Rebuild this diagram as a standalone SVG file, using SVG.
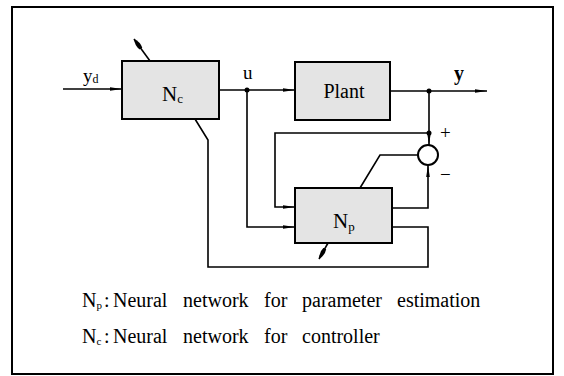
<svg xmlns="http://www.w3.org/2000/svg" width="564" height="376" viewBox="0 0 564 376">
<defs>
<style>
.ln{fill:none;stroke:#000;stroke-width:1.6}
.box{fill:#e4e4e4;stroke:#000;stroke-width:2}
text{font-family:"Liberation Serif","Times New Roman",serif;fill:#000}
</style>
<marker id="ah" viewBox="0 0 12 6" refX="12" refY="3" markerWidth="12" markerHeight="6" markerUnits="userSpaceOnUse" orient="auto">
<path d="M0,1.2 L12,3 L0,4.8 Z" fill="#000"/>
</marker>
<marker id="adj" viewBox="0 0 12 6" refX="12" refY="3" markerWidth="12" markerHeight="6" markerUnits="userSpaceOnUse" orient="auto">
<path d="M0,1.5 Q6,-0.5 12,3 Q6,6.5 0,4.5 Z" fill="#000"/>
</marker>
</defs>
<rect width="564" height="376" fill="#fff"/>
<rect x="12" y="7" width="541" height="367" fill="none" stroke="#000" stroke-width="2"/>

<g id="connectors">
<line class="ln" x1="63" y1="89" x2="122" y2="89" marker-end="url(#ah)"/>
<line class="ln" x1="219" y1="90" x2="295" y2="90" marker-end="url(#ah)"/>
<line class="ln" x1="390" y1="91" x2="487" y2="91" marker-end="url(#ah)"/>
<line class="ln" x1="429" y1="91" x2="429" y2="145" marker-end="url(#ah)"/>
<polyline class="ln" points="429,133 275,133 275,207 295,207" marker-end="url(#ah)"/>
<polyline class="ln" points="247,90 247,227 295,227" marker-end="url(#ah)"/>
<polyline class="ln" points="392,208 428,208 428,165" marker-end="url(#ah)"/>
<polyline class="ln" points="418,155 380,155 360,188"/>
<polyline class="ln" points="195,119 208,140 208,267 428,267 428,227 392,227"/>
<line class="ln" x1="150" y1="61" x2="134" y2="39" marker-end="url(#adj)"/>
<line class="ln" x1="328" y1="243" x2="319" y2="259" marker-end="url(#adj)"/>
<circle cx="247" cy="90" r="2.5" fill="#000"/>
<circle cx="429" cy="91" r="2.5" fill="#000"/>
<circle cx="429" cy="133" r="2.5" fill="#000"/>
</g>

<g id="Nc">
<rect class="box" x="122" y="61" width="97" height="58"/>
<text x="162" y="101" font-size="21">N<tspan font-size="13" dy="2">c</tspan></text>
</g>
<g id="Plant">
<rect class="box" x="295" y="62" width="95" height="58"/>
<text x="344" y="98" font-size="20" text-anchor="middle">Plant</text>
</g>
<g id="Np">
<rect class="box" x="295" y="188" width="97" height="55"/>
<text x="333" y="228" font-size="21">N<tspan font-size="13" dy="3">p</tspan></text>
</g>
<g id="sum">
<circle cx="428" cy="155" r="10" fill="#fff" stroke="#000" stroke-width="2"/>
<text x="440" y="139" font-size="19">+</text>
<text x="440" y="181" font-size="19">−</text>
</g>

<g id="labels">
<text x="83" y="82" font-size="19">y<tspan font-size="12" dy="1">d</tspan></text>
<text x="243" y="79" font-size="19">u</text>
<text x="454" y="80" font-size="20" font-weight="bold">y</text>
</g>

<g id="legend" font-size="20">
<text y="307"><tspan x="82">N</tspan><tspan font-size="11" dy="2">p</tspan><tspan dy="-2" x="104">:</tspan><tspan x="113">Neural</tspan><tspan x="183">network</tspan><tspan x="264">for</tspan><tspan x="302">parameter</tspan><tspan x="397">estimation</tspan></text>
<text y="343"><tspan x="82">N</tspan><tspan font-size="11" dy="2">c</tspan><tspan dy="-2" x="104">:</tspan><tspan x="113">Neural</tspan><tspan x="183">network</tspan><tspan x="264">for</tspan><tspan x="302">controller</tspan></text>
</g>
</svg>
